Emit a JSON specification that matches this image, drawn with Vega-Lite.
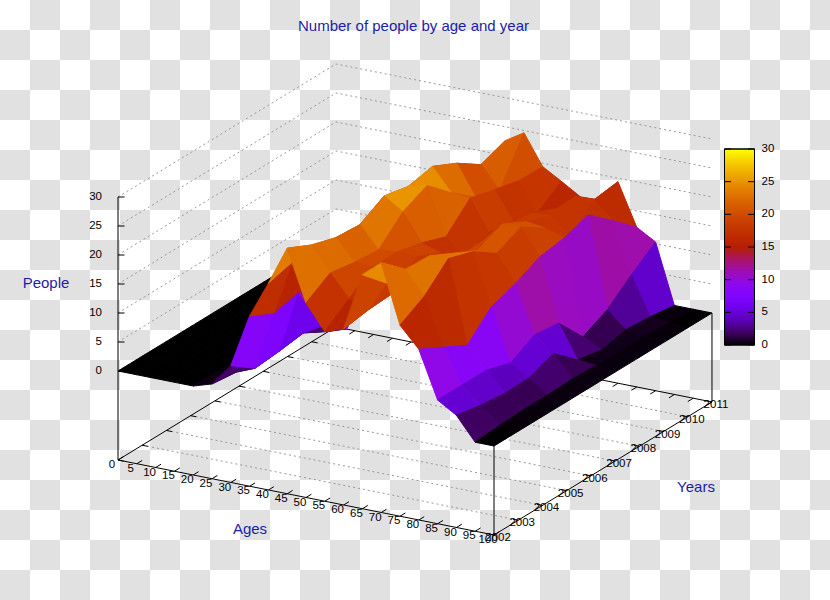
{"$schema":"https://vega.github.io/schema/vega-lite/v6.json","width":830,"height":600,"padding":0,"autosize":{"type":"none"},"background":"white","config":{"view":{"stroke":null},"text":{"font":"Liberation Sans"}},
"datasets":{
"checker":[{"row":0},{"row":1},{"row":2},{"row":3},{"row":4},{"row":5},{"row":6},{"row":7},{"row":8},{"row":9},{"row":10},{"row":11},{"row":12},{"row":13},{"row":14},{"row":15},{"row":16},{"row":17},{"row":18},{"row":19}],
"ages":[{"age":0},{"age":5},{"age":10},{"age":15},{"age":20},{"age":25},{"age":30},{"age":35},{"age":40},{"age":45},{"age":50},{"age":55},{"age":60},{"age":65},{"age":70},{"age":75},{"age":80},{"age":85},{"age":90},{"age":95},{"age":100}],
"years":[{"year":2002},{"year":2003},{"year":2004},{"year":2005},{"year":2006},{"year":2007},{"year":2008},{"year":2009},{"year":2010},{"year":2011}],
"levels":[{"people":0},{"people":5},{"people":10},{"people":15},{"people":20},{"people":25},{"people":30}],
"grid":[
{"line":"z0","k":0,"age":0,"year":2002,"people":0},{"line":"z0","k":1,"age":0,"year":2011,"people":0},{"line":"z0","k":2,"age":100,"year":2011,"people":0},
{"line":"z5","k":0,"age":0,"year":2002,"people":5},{"line":"z5","k":1,"age":0,"year":2011,"people":5},{"line":"z5","k":2,"age":100,"year":2011,"people":5},
{"line":"z10","k":0,"age":0,"year":2002,"people":10},{"line":"z10","k":1,"age":0,"year":2011,"people":10},{"line":"z10","k":2,"age":100,"year":2011,"people":10},
{"line":"z15","k":0,"age":0,"year":2002,"people":15},{"line":"z15","k":1,"age":0,"year":2011,"people":15},{"line":"z15","k":2,"age":100,"year":2011,"people":15},
{"line":"z20","k":0,"age":0,"year":2002,"people":20},{"line":"z20","k":1,"age":0,"year":2011,"people":20},{"line":"z20","k":2,"age":100,"year":2011,"people":20},
{"line":"z25","k":0,"age":0,"year":2002,"people":25},{"line":"z25","k":1,"age":0,"year":2011,"people":25},{"line":"z25","k":2,"age":100,"year":2011,"people":25},
{"line":"z30","k":0,"age":0,"year":2002,"people":30},{"line":"z30","k":1,"age":0,"year":2011,"people":30},{"line":"z30","k":2,"age":100,"year":2011,"people":30},
{"line":"y2003","k":0,"age":0,"year":2003,"people":-15.34},{"line":"y2003","k":1,"age":100,"year":2003,"people":-15.34},
{"line":"y2004","k":0,"age":0,"year":2004,"people":-15.34},{"line":"y2004","k":1,"age":100,"year":2004,"people":-15.34},
{"line":"y2005","k":0,"age":0,"year":2005,"people":-15.34},{"line":"y2005","k":1,"age":100,"year":2005,"people":-15.34},
{"line":"y2006","k":0,"age":0,"year":2006,"people":-15.34},{"line":"y2006","k":1,"age":100,"year":2006,"people":-15.34},
{"line":"y2007","k":0,"age":0,"year":2007,"people":-15.34},{"line":"y2007","k":1,"age":100,"year":2007,"people":-15.34},
{"line":"y2008","k":0,"age":0,"year":2008,"people":-15.34},{"line":"y2008","k":1,"age":100,"year":2008,"people":-15.34},
{"line":"y2009","k":0,"age":0,"year":2009,"people":-15.34},{"line":"y2009","k":1,"age":100,"year":2009,"people":-15.34},
{"line":"y2010","k":0,"age":0,"year":2010,"people":-15.34},{"line":"y2010","k":1,"age":100,"year":2010,"people":-15.34}],
"border":[
{"line":"floor","k":0,"age":0,"year":2002,"people":-15.34},{"line":"floor","k":1,"age":100,"year":2002,"people":-15.34},{"line":"floor","k":2,"age":100,"year":2011,"people":-15.34},{"line":"floor","k":3,"age":0,"year":2011,"people":-15.34},{"line":"floor","k":4,"age":0,"year":2002,"people":-15.34},
{"line":"zaxis","k":0,"age":0,"year":2002,"people":-15.34},{"line":"zaxis","k":1,"age":0,"year":2002,"people":30},
{"line":"front","k":0,"age":100,"year":2002,"people":-15.34},{"line":"front","k":1,"age":100,"year":2002,"people":0},
{"line":"right","k":0,"age":100,"year":2011,"people":-15.34},{"line":"right","k":1,"age":100,"year":2011,"people":0}],
"surface":[
{"age":0,"year":2011,"people":0},{"age":5,"year":2011,"people":0},{"age":10,"year":2011,"people":0},{"age":15,"year":2011,"people":0},{"age":20,"year":2011,"people":0},{"age":25,"year":2011,"people":2},{"age":30,"year":2011,"people":8},{"age":35,"year":2011,"people":10},{"age":40,"year":2011,"people":14},{"age":45,"year":2011,"people":22.6},{"age":50,"year":2011,"people":24.6},{"age":55,"year":2011,"people":19.4},{"age":60,"year":2011,"people":17.5},{"age":65,"year":2011,"people":15.5},{"age":70,"year":2011,"people":15.6},{"age":75,"year":2011,"people":19.4},{"age":80,"year":2011,"people":12.2},{"age":85,"year":2011,"people":10.3},{"age":90,"year":2011,"people":0},{"age":95,"year":2011,"people":0},{"age":100,"year":2011,"people":0},
{"age":0,"year":2010,"people":0},{"age":5,"year":2010,"people":0},{"age":10,"year":2010,"people":0},{"age":15,"year":2010,"people":0},{"age":20,"year":2010,"people":0},{"age":25,"year":2010,"people":2},{"age":30,"year":2010,"people":8},{"age":35,"year":2010,"people":10},{"age":40,"year":2010,"people":14},{"age":45,"year":2010,"people":21},{"age":50,"year":2010,"people":17.3},{"age":55,"year":2010,"people":19.5},{"age":60,"year":2010,"people":14.6},{"age":65,"year":2010,"people":16},{"age":70,"year":2010,"people":18.7},{"age":75,"year":2010,"people":18.8},{"age":80,"year":2010,"people":15.9},{"age":85,"year":2010,"people":7.2},{"age":90,"year":2010,"people":0.6},{"age":95,"year":2010,"people":0.3},{"age":100,"year":2010,"people":0},
{"age":0,"year":2009,"people":0},{"age":5,"year":2009,"people":0},{"age":10,"year":2009,"people":0},{"age":15,"year":2009,"people":0},{"age":20,"year":2009,"people":0},{"age":25,"year":2009,"people":2},{"age":30,"year":2009,"people":8},{"age":35,"year":2009,"people":10},{"age":40,"year":2009,"people":14},{"age":45,"year":2009,"people":23.8},{"age":50,"year":2009,"people":18.6},{"age":55,"year":2009,"people":20.5},{"age":60,"year":2009,"people":15.7},{"age":65,"year":2009,"people":17.8},{"age":70,"year":2009,"people":18},{"age":75,"year":2009,"people":15},{"age":80,"year":2009,"people":19.4},{"age":85,"year":2009,"people":3.7},{"age":90,"year":2009,"people":0.9},{"age":95,"year":2009,"people":0.5},{"age":100,"year":2009,"people":0},
{"age":0,"year":2008,"people":0},{"age":5,"year":2008,"people":0},{"age":10,"year":2008,"people":0},{"age":15,"year":2008,"people":0},{"age":20,"year":2008,"people":0},{"age":25,"year":2008,"people":2},{"age":30,"year":2008,"people":6},{"age":35,"year":2008,"people":10},{"age":40,"year":2008,"people":14},{"age":45,"year":2008,"people":25.8},{"age":50,"year":2008,"people":21.9},{"age":55,"year":2008,"people":21.6},{"age":60,"year":2008,"people":16.3},{"age":65,"year":2008,"people":18.4},{"age":70,"year":2008,"people":19.5},{"age":75,"year":2008,"people":19},{"age":80,"year":2008,"people":18},{"age":85,"year":2008,"people":1.6},{"age":90,"year":2008,"people":0},{"age":95,"year":2008,"people":0.5},{"age":100,"year":2008,"people":0},
{"age":0,"year":2007,"people":0},{"age":5,"year":2007,"people":0},{"age":10,"year":2007,"people":0},{"age":15,"year":2007,"people":0},{"age":20,"year":2007,"people":0},{"age":25,"year":2007,"people":1},{"age":30,"year":2007,"people":4},{"age":35,"year":2007,"people":6},{"age":40,"year":2007,"people":14},{"age":45,"year":2007,"people":24.9},{"age":50,"year":2007,"people":25.7},{"age":55,"year":2007,"people":17.5},{"age":60,"year":2007,"people":15},{"age":65,"year":2007,"people":18.2},{"age":70,"year":2007,"people":21.6},{"age":75,"year":2007,"people":21.8},{"age":80,"year":2007,"people":17.3},{"age":85,"year":2007,"people":6.5},{"age":90,"year":2007,"people":0.8},{"age":95,"year":2007,"people":0.5},{"age":100,"year":2007,"people":0},
{"age":0,"year":2006,"people":0},{"age":5,"year":2006,"people":0},{"age":10,"year":2006,"people":0},{"age":15,"year":2006,"people":0},{"age":20,"year":2006,"people":0},{"age":25,"year":2006,"people":0.5},{"age":30,"year":2006,"people":0.5},{"age":35,"year":2006,"people":1.6},{"age":40,"year":2006,"people":11.5},{"age":45,"year":2006,"people":25.8},{"age":50,"year":2006,"people":23.7},{"age":55,"year":2006,"people":19},{"age":60,"year":2006,"people":17.9},{"age":65,"year":2006,"people":18},{"age":70,"year":2006,"people":19.7},{"age":75,"year":2006,"people":19.8},{"age":80,"year":2006,"people":15.3},{"age":85,"year":2006,"people":7},{"age":90,"year":2006,"people":4.5},{"age":95,"year":2006,"people":0.7},{"age":100,"year":2006,"people":0},
{"age":0,"year":2005,"people":0},{"age":5,"year":2005,"people":0},{"age":10,"year":2005,"people":0},{"age":15,"year":2005,"people":0},{"age":20,"year":2005,"people":0},{"age":25,"year":2005,"people":0.3},{"age":30,"year":2005,"people":2.8},{"age":35,"year":2005,"people":4.7},{"age":40,"year":2005,"people":14.4},{"age":45,"year":2005,"people":23.4},{"age":50,"year":2005,"people":19.7},{"age":55,"year":2005,"people":20},{"age":60,"year":2005,"people":19.8},{"age":65,"year":2005,"people":17},{"age":70,"year":2005,"people":21.7},{"age":75,"year":2005,"people":22.6},{"age":80,"year":2005,"people":13.8},{"age":85,"year":2005,"people":4.7},{"age":90,"year":2005,"people":2.8},{"age":95,"year":2005,"people":0.5},{"age":100,"year":2005,"people":0},
{"age":0,"year":2004,"people":0},{"age":5,"year":2004,"people":0},{"age":10,"year":2004,"people":0},{"age":15,"year":2004,"people":0},{"age":20,"year":2004,"people":0},{"age":25,"year":2004,"people":0.3},{"age":30,"year":2004,"people":2.2},{"age":35,"year":2004,"people":13},{"age":40,"year":2004,"people":16},{"age":45,"year":2004,"people":23.7},{"age":50,"year":2004,"people":20.1},{"age":55,"year":2004,"people":20},{"age":60,"year":2004,"people":16},{"age":65,"year":2004,"people":20},{"age":70,"year":2004,"people":23.8},{"age":75,"year":2004,"people":24},{"age":80,"year":2004,"people":9.7},{"age":85,"year":2004,"people":6},{"age":90,"year":2004,"people":2.7},{"age":95,"year":2004,"people":0.5},{"age":100,"year":2004,"people":0},
{"age":0,"year":2003,"people":0},{"age":5,"year":2003,"people":0},{"age":10,"year":2003,"people":0},{"age":15,"year":2003,"people":0},{"age":20,"year":2003,"people":0},{"age":25,"year":2003,"people":0.5},{"age":30,"year":2003,"people":1.8},{"age":35,"year":2003,"people":12},{"age":40,"year":2003,"people":21.5},{"age":45,"year":2003,"people":25},{"age":50,"year":2003,"people":20.8},{"age":55,"year":2003,"people":17},{"age":60,"year":2003,"people":15.7},{"age":65,"year":2003,"people":21},{"age":70,"year":2003,"people":24},{"age":75,"year":2003,"people":20},{"age":80,"year":2003,"people":11.9},{"age":85,"year":2003,"people":6},{"age":90,"year":2003,"people":3.2},{"age":95,"year":2003,"people":0.3},{"age":100,"year":2003,"people":0},
{"age":0,"year":2002,"people":0},{"age":5,"year":2002,"people":0},{"age":10,"year":2002,"people":0},{"age":15,"year":2002,"people":0},{"age":20,"year":2002,"people":0},{"age":25,"year":2002,"people":1},{"age":30,"year":2002,"people":4.8},{"age":35,"year":2002,"people":14},{"age":40,"year":2002,"people":20.3},{"age":45,"year":2002,"people":27},{"age":50,"year":2002,"people":18.2},{"age":55,"year":2002,"people":13.9},{"age":60,"year":2002,"people":15},{"age":65,"year":2002,"people":25},{"age":70,"year":2002,"people":27.7},{"age":75,"year":2002,"people":17.6},{"age":80,"year":2002,"people":14.1},{"age":85,"year":2002,"people":6},{"age":90,"year":2002,"people":4},{"age":95,"year":2002,"people":0},{"age":100,"year":2002,"people":0}]
},
"encoding":{"x":{"field":"px","type":"quantitative","scale":{"domain":[0,830],"nice":false,"zero":false},"axis":null},"y":{"field":"py","type":"quantitative","scale":{"domain":[600,0],"nice":false,"zero":false},"axis":null}},
"layer":[
{"data":{"name":"checker"},"transform":[{"filter":"datum.row%2==0"},{"calculate":"datum.row*30+15","as":"py"},{"calculate":"0","as":"px"},{"calculate":"830","as":"px2"}],"mark":{"type":"rule","stroke":"#e1e1e1","strokeWidth":30,"strokeDash":[30,30],"strokeDashOffset":30},"encoding":{"x2":{"field":"px2"}}},
{"data":{"name":"checker"},"transform":[{"filter":"datum.row%2==1"},{"calculate":"datum.row*30+15","as":"py"},{"calculate":"0","as":"px"},{"calculate":"830","as":"px2"}],"mark":{"type":"rule","stroke":"#e1e1e1","strokeWidth":30,"strokeDash":[30,30]},"encoding":{"x2":{"field":"px2"}}},
{"data":{"name":"grid"},"transform":[{"calculate":"118+3.76*datum.age+24.22*(datum.year-2002)","as":"px"},{"calculate":"371+0.75*datum.age-14.78*(datum.year-2002)-5.8*datum.people","as":"py"}],"mark":{"type":"line","stroke":"#999999","strokeWidth":1,"strokeDash":[2,3]},"encoding":{"detail":{"field":"line"},"order":{"field":"k"}}},
{"data":{"name":"border"},"transform":[{"calculate":"118+3.76*datum.age+24.22*(datum.year-2002)","as":"px"},{"calculate":"371+0.75*datum.age-14.78*(datum.year-2002)-5.8*datum.people","as":"py"}],"mark":{"type":"line","stroke":"black","strokeWidth":1},"encoding":{"detail":{"field":"line"},"order":{"field":"k"}}},
{"data":{"name":"ages"},"transform":[{"calculate":"118+3.76*datum.age","as":"px"},{"calculate":"460+0.75*datum.age","as":"py"},{"calculate":"datum.px+5.4","as":"px2"},{"calculate":"datum.py-3.3","as":"py2"}],"mark":{"type":"rule","stroke":"black","strokeWidth":1},"encoding":{"x2":{"field":"px2"},"y2":{"field":"py2"}}},
{"data":{"name":"ages"},"transform":[{"calculate":"336+3.76*datum.age","as":"px"},{"calculate":"327+0.75*datum.age","as":"py"},{"calculate":"datum.px-5.4","as":"px2"},{"calculate":"datum.py+3.3","as":"py2"}],"mark":{"type":"rule","stroke":"black","strokeWidth":1},"encoding":{"x2":{"field":"px2"},"y2":{"field":"py2"}}},
{"data":{"name":"years"},"transform":[{"calculate":"118+24.22*(datum.year-2002)","as":"px"},{"calculate":"460-14.78*(datum.year-2002)","as":"py"},{"calculate":"datum.px+5.6","as":"px2"},{"calculate":"datum.py+1.1","as":"py2"}],"mark":{"type":"rule","stroke":"black","strokeWidth":1},"encoding":{"x2":{"field":"px2"},"y2":{"field":"py2"}}},
{"data":{"name":"years"},"transform":[{"calculate":"494+24.22*(datum.year-2002)","as":"px"},{"calculate":"535-14.78*(datum.year-2002)","as":"py"},{"calculate":"datum.px-5.6","as":"px2"},{"calculate":"datum.py-1.1","as":"py2"}],"mark":{"type":"rule","stroke":"black","strokeWidth":1},"encoding":{"x2":{"field":"px2"},"y2":{"field":"py2"}}},
{"data":{"name":"levels"},"transform":[{"calculate":"118","as":"px"},{"calculate":"371-5.8*datum.people","as":"py"},{"calculate":"124.5","as":"px2"}],"mark":{"type":"rule","stroke":"black","strokeWidth":1},"encoding":{"x2":{"field":"px2"}}},
{"data":{"name":"surface"},"transform":[{"calculate":"[0,1,2,3]","as":"k"},{"flatten":["k"]},{"calculate":"datum.age-((datum.k==1||datum.k==2)?5:0)","as":"cellAge"},{"calculate":"datum.year-(datum.k>=2?1:0)","as":"cellYear"},{"filter":"datum.cellAge>=0&&datum.cellAge<100&&datum.cellYear>=2002&&datum.cellYear<2011"},{"calculate":"datum.cellYear+'-'+datum.cellAge","as":"cell"},{"joinaggregate":[{"op":"mean","field":"people","as":"meanPeople"}],"groupby":["cell"]},{"calculate":"118+3.76*datum.age+24.22*(datum.year-2002)","as":"px"},{"calculate":"371+0.75*datum.age-14.78*(datum.year-2002)-5.8*datum.people","as":"py"}],
"mark":{"type":"line","interpolate":"linear-closed","strokeWidth":1},
"encoding":{"detail":{"field":"cell"},"order":{"field":"k"},
"fill":{"field":"meanPeople","type":"quantitative","scale":{"interpolate":"rgb","domain":[0,1.875,3.75,5.625,7.5,9.375,11.25,13.125,15,16.875,18.75,20.625,22.5,24.375,26.25,28.125,30],"range":["#000000","#400062","#5a00b4","#6e02ec","#8004ff","#8f08ec","#9c0db4","#a91562","#b42000","#bf2d00","#ca3e00","#d35300","#dd6c00","#e68900","#efab00","#f7d200","#ffff00"]},"legend":null},
"stroke":{"field":"meanPeople","type":"quantitative","scale":{"interpolate":"rgb","domain":[0,1.875,3.75,5.625,7.5,9.375,11.25,13.125,15,16.875,18.75,20.625,22.5,24.375,26.25,28.125,30],"range":["#000000","#400062","#5a00b4","#6e02ec","#8004ff","#8f08ec","#9c0db4","#a91562","#b42000","#bf2d00","#ca3e00","#d35300","#dd6c00","#e68900","#efab00","#f7d200","#ffff00"]},"legend":null}}},
{"data":{"values":[{"bar":"scale"}]},"transform":[{"calculate":"724.5","as":"px"},{"calculate":"754.5","as":"px2"},{"calculate":"149","as":"py"},{"calculate":"345","as":"py2"}],"mark":{"type":"rect","stroke":"black","strokeWidth":1,"fill":{"gradient":"linear","x1":0,"y1":1,"x2":0,"y2":0,"stops":[{"offset":0,"color":"#000000"},{"offset":0.0625,"color":"#400062"},{"offset":0.125,"color":"#5a00b4"},{"offset":0.1875,"color":"#6e02ec"},{"offset":0.25,"color":"#8004ff"},{"offset":0.3125,"color":"#8f08ec"},{"offset":0.375,"color":"#9c0db4"},{"offset":0.4375,"color":"#a91562"},{"offset":0.5,"color":"#b42000"},{"offset":0.5625,"color":"#bf2d00"},{"offset":0.625,"color":"#ca3e00"},{"offset":0.6875,"color":"#d35300"},{"offset":0.75,"color":"#dd6c00"},{"offset":0.8125,"color":"#e68900"},{"offset":0.875,"color":"#efab00"},{"offset":0.9375,"color":"#f7d200"},{"offset":1,"color":"#ffff00"}]}},"encoding":{"x2":{"field":"px2"},"y2":{"field":"py2"}}},
{"data":{"name":"levels"},"transform":[{"calculate":"345-6.533*datum.people","as":"py"},{"calculate":"724.5","as":"px"},{"calculate":"731","as":"px2"}],"mark":{"type":"rule","stroke":"black","strokeWidth":1},"encoding":{"x2":{"field":"px2"}}},
{"data":{"name":"levels"},"transform":[{"calculate":"345-6.533*datum.people","as":"py"},{"calculate":"748","as":"px"},{"calculate":"754.5","as":"px2"}],"mark":{"type":"rule","stroke":"black","strokeWidth":1},"encoding":{"x2":{"field":"px2"}}},
{"data":{"name":"levels"},"transform":[{"calculate":"345-6.533*datum.people","as":"py"},{"calculate":"739","as":"px"}],"mark":{"type":"rect","opacity":0},"encoding":{"color":{"field":"people","type":"quantitative","scale":{"interpolate":"rgb","domain":[0,1.875,3.75,5.625,7.5,9.375,11.25,13.125,15,16.875,18.75,20.625,22.5,24.375,26.25,28.125,30],"range":["#000000","#400062","#5a00b4","#6e02ec","#8004ff","#8f08ec","#9c0db4","#a91562","#b42000","#bf2d00","#ca3e00","#d35300","#dd6c00","#e68900","#efab00","#f7d200","#ffff00"]},"legend":{"orient":"none","legendX":724.5,"legendY":149,"direction":"vertical","title":null,"gradientLength":196,"gradientThickness":30,"gradientOpacity":0,"gradientStrokeColor":"black","gradientStrokeWidth":1,"values":[0,5,10,15,20,25,30],"labelFont":"Liberation Sans","labelFontSize":11.5,"labelColor":"black","labelOffset":7,"labelBaseline":"middle","encode":{"gradient":{"update":{"fillOpacity":{"value":0},"opacity":{"value":1}}},"labels":{"update":{"baseline":{"value":"middle"}}}}}}}},
{"data":{"name":"ages"},"transform":[{"calculate":"118+3.76*datum.age","as":"px"},{"calculate":"460+0.75*datum.age","as":"py"}],"mark":{"type":"text","fontSize":11.5,"dx":-6,"dy":5,"align":"center","baseline":"middle","color":"black"},"encoding":{"text":{"field":"age","type":"quantitative"}}},
{"data":{"name":"years"},"transform":[{"calculate":"494+24.22*(datum.year-2002)","as":"px"},{"calculate":"535-14.78*(datum.year-2002)","as":"py"}],"mark":{"type":"text","fontSize":11.5,"dx":4,"dy":3,"align":"center","baseline":"middle","color":"black"},"encoding":{"text":{"field":"year","type":"ordinal"}}},
{"data":{"name":"levels"},"transform":[{"calculate":"118","as":"px"},{"calculate":"371-5.8*datum.people","as":"py"}],"mark":{"type":"text","fontSize":11.5,"dx":-16,"align":"right","baseline":"middle","color":"black"},"encoding":{"text":{"field":"people","type":"quantitative"}}},
{"data":{"values":[{"label":"Number of people by age and year"}]},"transform":[{"calculate":"413.5","as":"px"},{"calculate":"26","as":"py"}],"mark":{"type":"text","fontSize":15,"color":"#1c1caa","align":"center","baseline":"middle"},"encoding":{"text":{"field":"label"}}},
{"data":{"values":[{"label":"People"}]},"transform":[{"calculate":"46","as":"px"},{"calculate":"283","as":"py"}],"mark":{"type":"text","fontSize":15,"color":"#1c1caa","align":"center","baseline":"middle"},"encoding":{"text":{"field":"label"}}},
{"data":{"values":[{"label":"Ages"}]},"transform":[{"calculate":"250","as":"px"},{"calculate":"529","as":"py"}],"mark":{"type":"text","fontSize":15,"color":"#1c1caa","align":"center","baseline":"middle"},"encoding":{"text":{"field":"label"}}},
{"data":{"values":[{"label":"Years"}]},"transform":[{"calculate":"696","as":"px"},{"calculate":"487","as":"py"}],"mark":{"type":"text","fontSize":15,"color":"#1c1caa","align":"center","baseline":"middle"},"encoding":{"text":{"field":"label"}}}
],"resolve":{"scale":{"fill":"independent","stroke":"independent","color":"independent"}}}
